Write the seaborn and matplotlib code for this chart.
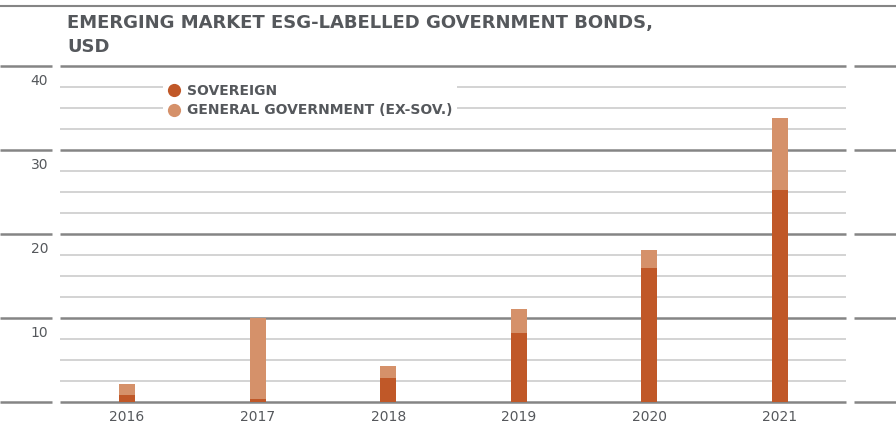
import matplotlib
matplotlib.use("Agg")
import numpy as np
import pandas as pd
import matplotlib.pyplot as plt
import seaborn as sns
from matplotlib.lines import Line2D
from matplotlib.transforms import blended_transform_factory

# ---- data ----
years = ["2016", "2017", "2018", "2019", "2020", "2021"]
sovereign = [0.8, 0.35, 2.9, 8.2, 16.0, 25.2]
general_gov = [1.35, 9.7, 1.4, 2.85, 2.1, 8.6]
ytick_values = [10, 20, 30, 40]
ytick_labels = ["10", "20", "30", "40"]
title_lines = ["EMERGING MARKET ESG-LABELLED GOVERNMENT BONDS,", "USD"]
legend_labels = ["SOVEREIGN", "GENERAL GOVERNMENT (EX-SOV.)"]

SOV_C = "#C05828"
GEN_C = "#D5916A"
TEXT_C = "#55585C"
MAJOR_C = "#858585"
MINOR_C = "#D3D3D3"

W, H = 896, 423
sns.set_theme(style="white")
plt.rcParams['font.family'] = ['DejaVu Sans']

fig = plt.figure(figsize=(W / 100, H / 100), dpi=100)
ax = fig.add_axes([60 / W, (H - 402) / H, (846 - 60) / W, (402 - 66) / H])

df = pd.DataFrame({"year": years, "sovereign": sovereign, "general": general_gov})
df["total"] = df["sovereign"] + df["general"]

sns.barplot(data=df, x="year", y="total", color=GEN_C, saturation=1,
            width=0.1225, linewidth=0, ax=ax, zorder=3)
sns.barplot(data=df, x="year", y="sovereign", color=SOV_C, saturation=1,
            width=0.1225, linewidth=0, ax=ax, zorder=4)

ax.set_xlim(-0.513, 5.505)
ax.set_ylim(0, 40)
for s in ax.spines.values():
    s.set_visible(False)
ax.set_yticks([])
ax.set_xlabel("")
ax.set_ylabel("")
ax.tick_params(axis="x", length=0, pad=6, labelsize=10, labelcolor=TEXT_C)

# minor gridlines
for v in np.arange(2.5, 40, 2.5):
    if v % 10:
        ax.axhline(v, color=MINOR_C, lw=1.4, zorder=1)

# major gridlines, split segments
trans = blended_transform_factory(fig.transFigure, ax.transData)
for v in [0, 10, 20, 30, 40]:
    for x0, x1 in [(0, 52), (60, 846), (854, 896)]:
        ax.plot([x0 / W, x1 / W], [v, v], transform=trans, color=MAJOR_C,
                lw=1.8, clip_on=False, zorder=2, solid_capstyle="butt")

# y labels below major lines
for v, lab in zip(ytick_values, ytick_labels):
    ax.text(48 / W, v - 2.25, lab, transform=trans, ha="right", va="baseline",
            fontsize=10, color=TEXT_C)

# top rule
fig.add_artist(Line2D([0, 1], [1 - 6 / H] * 2, transform=fig.transFigure,
                      color=MAJOR_C, lw=1.5))

# title
fig.text(67 / W, 1 - 28 / H, title_lines[0], fontsize=13, fontweight="bold",
         color=TEXT_C, va="baseline", ha="left")
fig.text(67 / W, 1 - 52 / H, title_lines[1], fontsize=13, fontweight="bold",
         color=TEXT_C, va="baseline", ha="left")

# legend
handles = [Line2D([], [], marker="o", ls="", markersize=9.5,
                  markerfacecolor=c, markeredgewidth=0) for c in (SOV_C, GEN_C)]
leg = ax.legend(handles, legend_labels, loc="upper left",
                bbox_to_anchor=(156 / W, 1 - 73 / H), bbox_transform=fig.transFigure,
                frameon=True, facecolor="white", edgecolor="none", framealpha=1,
                fancybox=False, borderpad=0.3, handlelength=1.0, handletextpad=0.45,
                labelspacing=0.38, prop=dict(weight="bold", size=10))
for t in leg.get_texts():
    t.set_color(TEXT_C)
leg.set_zorder(10)

fig.savefig("out.png", dpi=100)
